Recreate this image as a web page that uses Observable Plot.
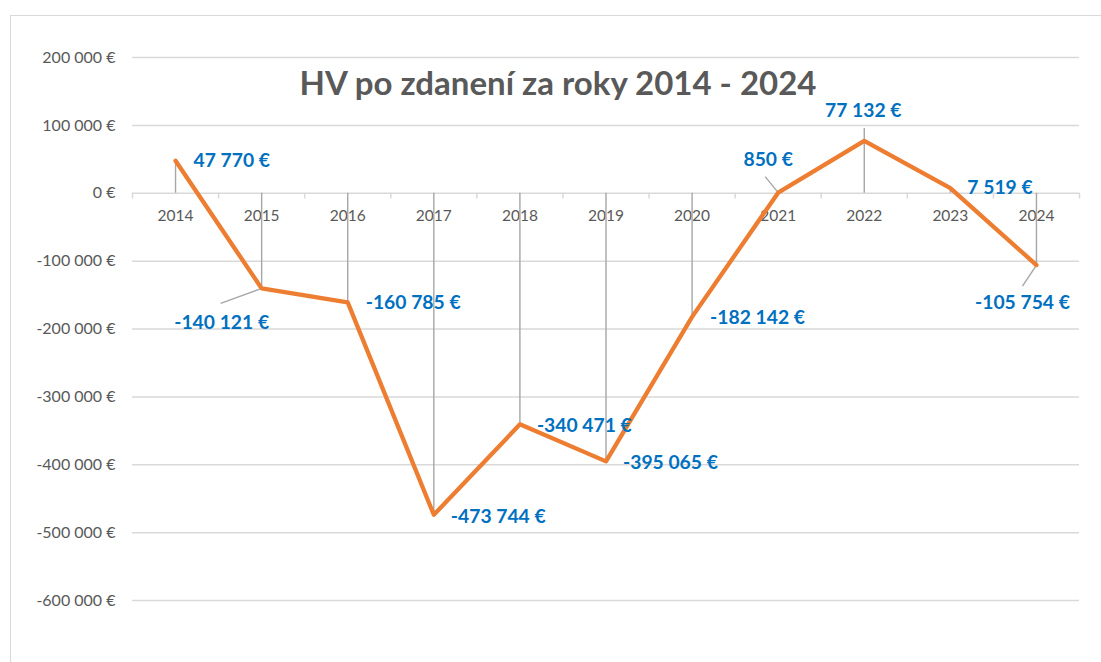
<!DOCTYPE html>
<html>
<head>
<meta charset="utf-8">
<script src="https://cdn.jsdelivr.net/npm/d3@7"></script>
<script src="https://cdn.jsdelivr.net/npm/@observablehq/plot@0.6"></script>
<style>
  html, body { margin: 0; padding: 0; background: #fff; overflow: hidden; }
  #wrap { position: relative; width: 1101px; height: 662px; }
  #frame { position: absolute; left: 10px; top: 15px; width: 1200px; height: 800px;
           border-left: 1.5px solid #d9d9d9; border-top: 1.5px solid #d9d9d9; }
  #chart { position: absolute; left: 0; top: 0; }
</style>
</head>
<body>
<div id="wrap"><div id="frame"></div><div id="chart"></div></div>
<script>
// ---- data ----
const title = "HV po zdanení za roky 2014 - 2024";
const years = [2014, 2015, 2016, 2017, 2018, 2019, 2020, 2021, 2022, 2023, 2024];
const values = [47770, -140121, -160785, -473744, -340471, -395065, -182142, 850, 77132, 7519, -105754];
const yTicks = [200000, 100000, 0, -100000, -200000, -300000, -400000, -500000, -600000];

// ---- label layout (pixel offsets from each point) ----
const labelPlacement = [
  {dx: 18, dy: 0, anchor: "start"},
  {dx: -40, dy: 34, anchor: "middle"},
  {dx: 18, dy: 0, anchor: "start"},
  {dx: 17, dy: 2, anchor: "start"},
  {dx: 17, dy: 1, anchor: "start"},
  {dx: 17, dy: 1, anchor: "start"},
  {dx: 18, dy: 1, anchor: "start"},
  {dx: -10, dy: -33, anchor: "middle"},
  {dx: -1, dy: -30, anchor: "middle"},
  {dx: 17, dy: 0, anchor: "start"},
  {dx: -14, dy: 38, anchor: "middle"}
];
// leader lines (pixel offsets of the far end from the point)
const leaderPx = {2015: [-41, 15], 2021: [-13, -16], 2022: [0, -13], 2024: [-14, 21]};

const W = 1101, H = 662, ML = 132, MR = 22, MT = 57, MB = 62;
const xDomain = [years[0] - 0.5, years[years.length - 1] + 0.5];
const yDomain = [-600000, 200000];
const pxX = (xDomain[1] - xDomain[0]) / (W - ML - MR);
const pxY = (yDomain[1] - yDomain[0]) / (H - MT - MB);

const fmt = n => (n < 0 ? "-" : "") + Math.abs(n).toString().replace(/\B(?=(\d{3})+(?!\d))/g, "\u00a0") + "\u00a0€";

const data = years.map((year, i) => ({year, value: values[i]}));
const boundaries = years.map(y => y - 0.5).concat([years[years.length - 1] + 0.5]);
const leaders = data.filter(d => leaderPx[d.year]).map(d => ({
  x1: d.year, y1: d.value,
  x2: d.year + leaderPx[d.year][0] * pxX,
  y2: d.value - leaderPx[d.year][1] * pxY
}));

const FONT = "Lato, 'Open Sans', 'Liberation Sans', sans-serif";
const gray = "#595959";
const blue = "#0070C0";

const labelMarks = data.map((d, i) => Plot.text([d], {
  x: "year", y: "value", text: r => fmt(r.value),
  dx: labelPlacement[i].dx, dy: labelPlacement[i].dy, textAnchor: labelPlacement[i].anchor,
  lineAnchor: "middle", fill: blue, fontSize: 19.3, fontWeight: "bold"
}));

const chart = Plot.plot({
  width: W, height: H,
  marginLeft: ML, marginRight: MR, marginTop: MT, marginBottom: MB,
  style: {fontFamily: FONT, color: gray, background: "transparent"},
  x: {type: "linear", domain: xDomain, axis: null},
  y: {domain: yDomain, axis: null},
  marks: [
    Plot.ruleY(yTicks, {stroke: "#d9d9d9", strokeWidth: 1.5}),
    Plot.text(yTicks, {x: xDomain[0], y: d => d, text: d => fmt(d), textAnchor: "end", dx: -17, fill: gray, fontSize: 16}),
    Plot.ruleX(boundaries, {y1: 0, y2: -8500, stroke: "#d9d9d9", strokeWidth: 1.5}),
    Plot.text(years, {x: d => d, y: 0, dy: 23, text: d => String(d), fill: gray, fontSize: 15.5}),
    Plot.ruleX(data, {x: "year", y1: 0, y2: "value", stroke: "#a6a6a6", strokeWidth: 1.4}),
    Plot.link(leaders, {x1: "x1", y1: "y1", x2: "x2", y2: "y2", stroke: "#a6a6a6", strokeWidth: 1.4}),
    Plot.line(data, {x: "year", y: "value", stroke: "#ED7D31", strokeWidth: 4.3, strokeLinejoin: "round", strokeLinecap: "round"}),
    ...labelMarks,
    Plot.text([title], {frameAnchor: "top", dx: -48, dy: 27, lineAnchor: "middle", text: d => d,
      fill: gray, fontSize: 33, fontWeight: "bold"})
  ]
});
document.getElementById("chart").appendChild(chart);
</script>
</body>
</html>
